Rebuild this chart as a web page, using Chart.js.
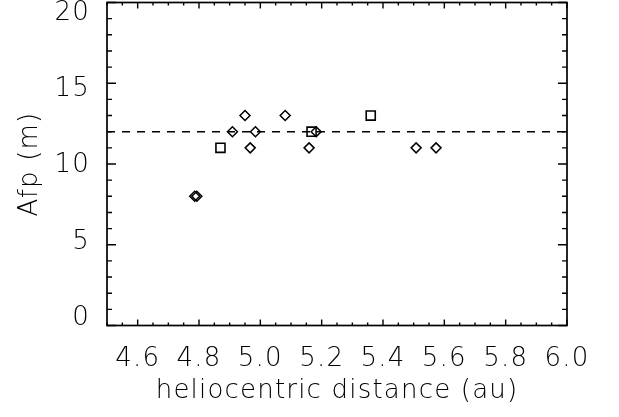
<!DOCTYPE html>
<html>
<head>
<meta charset="utf-8">
<script src="https://cdn.jsdelivr.net/npm/chart.js@4.4.1/dist/chart.umd.min.js"></script>
<style>
html, body { margin: 0; padding: 0; background: #fff; }
#wrap { width: 619px; height: 417px; }
</style>
</head>
<body>
<div id="wrap"><canvas id="afp"></canvas></div>
<script>
// data
var diamondDist = [4.786, 4.793, 4.909, 4.950, 4.967, 4.984, 5.081, 5.159, 5.182, 5.508, 5.573];
var diamondAfp  = [8, 8, 12, 13, 11, 12, 13, 11, 12, 11, 11];
var squareDist  = [4.870, 5.167, 5.360];
var squareAfp   = [11, 12, 13];
var meanAfp = 12;
var xRange = [4.5, 6.0];
var yRange = [0, 20];
var xTickLabels = ['4.6', '4.8', '5.0', '5.2', '5.4', '5.6', '5.8', '6.0'];
var yTickLabels = ['0', '5', '10', '15', '20'];

var FONT = { family: "'DejaVu Sans', sans-serif", size: 26, weight: 200 };

function toPoints(xs, ys) {
	return xs.map((x, i) => ({ x: x, y: ys[i] }));
}

// IDL style frame with inward major/minor ticks on all four sides
var frameTicks = {
	id: 'frameTicks',
	beforeDraw(chart) {
		chart.ctx.letterSpacing = '1.2px';
	},
	afterDraw(chart) {
		var ctx = chart.ctx, a = chart.chartArea;
		var xs = chart.scales.x, ys = chart.scales.y;
		ctx.save();
		ctx.letterSpacing = '0px';
		ctx.strokeStyle = '#000';
		ctx.lineWidth = 1.7;
		ctx.strokeRect(a.left, a.top, a.right - a.left, a.bottom - a.top);
		ctx.lineWidth = 1.4;
		ctx.beginPath();
		for (var i = 0; i <= 30; i++) {
			var v = xRange[0] + i * 0.05;
			var px = xs.getPixelForValue(v);
			var len = (i % 4 === 2) ? 6 : 3;
			ctx.moveTo(px, a.bottom); ctx.lineTo(px, a.bottom - len);
			ctx.moveTo(px, a.top); ctx.lineTo(px, a.top + len);
		}
		for (var j = yRange[0]; j <= yRange[1]; j++) {
			var py = ys.getPixelForValue(j);
			var l2 = (j % 5 === 0) ? 9 : 5;
			ctx.moveTo(a.left, py); ctx.lineTo(a.left + l2, py);
			ctx.moveTo(a.right, py); ctx.lineTo(a.right - l2, py);
		}
		ctx.stroke();
		ctx.restore();
	}
};

new Chart(document.getElementById('afp'), {
	type: 'scatter',
	data: {
		datasets: [
			{
				label: 'mean',
				type: 'line',
				data: toPoints(xRange, [meanAfp, meanAfp]),
				borderColor: '#000',
				borderWidth: 1.4,
				borderDash: [8, 7],
				pointRadius: 0,
				fill: false
			},
			{
				label: 'diamonds',
				data: toPoints(diamondDist, diamondAfp),
				pointStyle: 'rectRot',
				pointRadius: 5,
				borderColor: '#000',
				borderWidth: 1.5,
				backgroundColor: 'rgba(0,0,0,0)'
			},
			{
				label: 'squares',
				data: toPoints(squareDist, squareAfp),
				pointStyle: 'rect',
				pointRadius: 6.4,
				borderColor: '#000',
				borderWidth: 1.6,
				backgroundColor: 'rgba(0,0,0,0)'
			}
		]
	},
	plugins: [frameTicks],
	options: {
		responsive: true,
		maintainAspectRatio: false,
		animation: false,
		layout: { autoPadding: false, padding: { left: 0, top: 2.5, right: 52, bottom: 0 } },
		plugins: {
			legend: { display: false },
			tooltip: { enabled: false }
		},
		scales: {
			x: {
				type: 'linear',
				min: xRange[0],
				max: xRange[1],
				grid: { display: false, drawTicks: false },
				border: { display: false },
				afterBuildTicks: (s) => { s.ticks = xTickLabels.map(t => ({ value: parseFloat(t) })); },
				afterFit: (s) => { s.height = 91.5; s.paddingLeft = 0; s.paddingRight = 0; },
				ticks: {
					color: '#000',
					font: FONT,
					padding: 18,
					maxRotation: 0,
					autoSkip: false,
					callback: (v) => v.toFixed(1)
				},
				title: {
					display: true,
					text: 'heliocentric distance (au)',
					color: '#000',
					font: FONT,
					padding: { top: 0, bottom: 10 }
				}
			},
			// data axis, labels are drawn by yLab
			y: {
				display: false,
				min: yRange[0],
				max: yRange[1]
			},
			// IDL pulls the end labels inside the box, so the label axis is a bit wider than the data range
			yLab: {
				position: 'left',
				min: yRange[0] - 0.47,
				max: yRange[1] + 0.69,
				grid: { display: false, drawTicks: false },
				border: { display: false },
				afterBuildTicks: (s) => { s.ticks = yTickLabels.map(t => ({ value: parseFloat(t) })); },
				afterFit: (s) => { s.width = 107; s.paddingTop = 0; s.paddingBottom = 0; },
				ticks: {
					color: '#000',
					font: FONT,
					padding: 17
				},
				title: {
					display: true,
					text: 'Afp (m)',
					color: '#000',
					font: FONT,
					padding: { top: 15, bottom: 0 }
				}
			}
		}
	}
});
</script>
</body>
</html>
